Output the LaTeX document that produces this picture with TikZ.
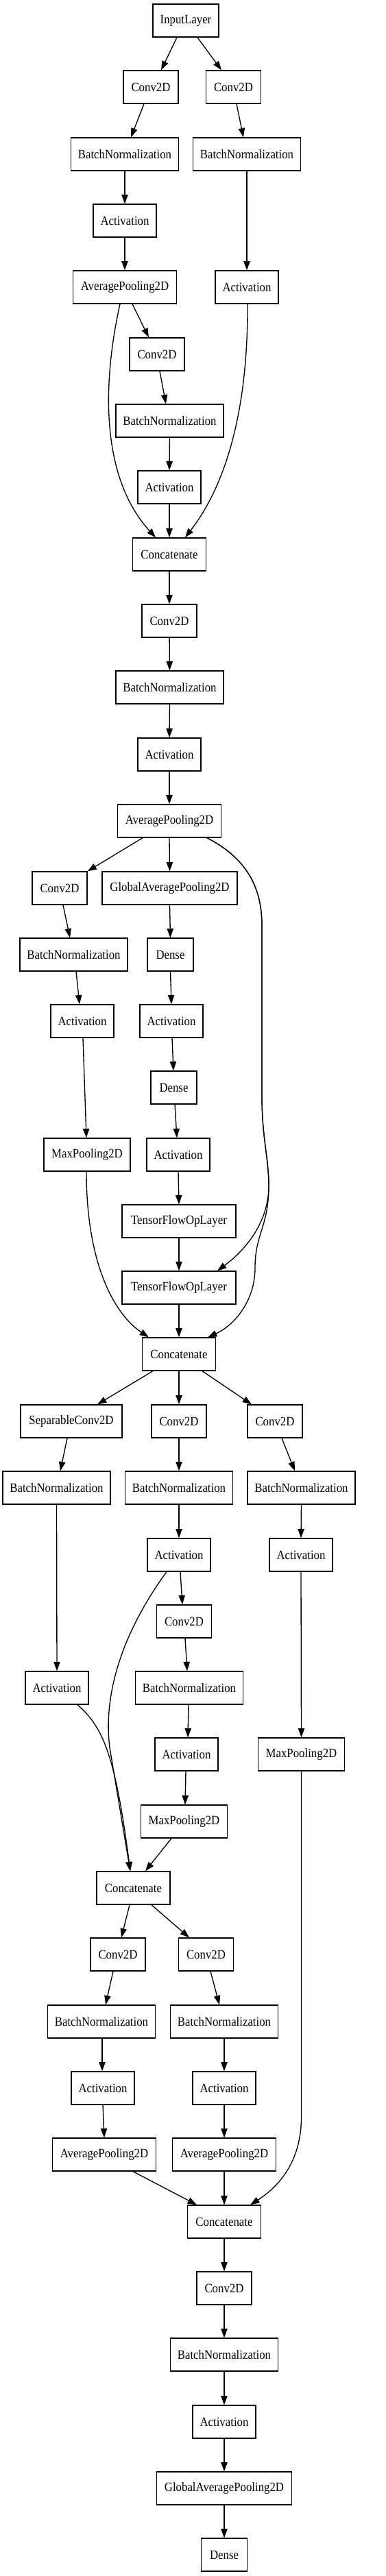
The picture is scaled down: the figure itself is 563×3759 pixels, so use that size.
\documentclass[tikz,border=0pt]{standalone}
\usepackage{fontspec}
\setmainfont{Liberation Serif}[FakeStretch=0.9]
\usetikzlibrary{arrows.meta,calc}
\begin{document}
\begin{tikzpicture}[x=0.75pt,y=-0.75pt,
  box/.style={draw,line width=1pt,rectangle,minimum height=36pt,inner sep=0pt,font=\fontsize{14}{16}\selectfont},
  bw/.style={minimum width=#1*0.75pt},
  conn/.style={draw,line width=1pt,-{Triangle[length=10pt,width=7pt]}}]
\useasboundingbox (0,0) rectangle (563,3759);
% nodes
\node[box,bw=96] (in) at (271,30) {InputLayer};
\node[box,bw=80] (c1a) at (220,127) {Conv2D};
\node[box,bw=80] (c1b) at (340.5,127) {Conv2D};
\node[box,bw=157] (bn1a) at (182,225) {BatchNormalization};
\node[box,bw=157] (bn1b) at (360,225) {BatchNormalization};
\node[box,bw=92] (ac1a) at (182,322) {Activation};
\node[box,bw=151] (ap1) at (182,419) {AveragePooling2D};
\node[box,bw=92] (ac1b) at (360,419) {Activation};
\node[box,bw=80] (c2) at (229,517) {Conv2D};
\node[box,bw=157] (bn2) at (247.5,614) {BatchNormalization};
\node[box,bw=92] (ac2) at (247,711) {Activation};
\node[box,bw=107] (cat1) at (247,809) {Concatenate};
\node[box,bw=80] (c3) at (247,906) {Conv2D};
\node[box,bw=157] (bn3) at (247.5,1003) {BatchNormalization};
\node[box,bw=92] (ac3) at (247,1101) {Activation};
\node[box,bw=151] (ap2) at (247,1198) {AveragePooling2D};
\node[box,bw=80] (c4) at (87,1296) {Conv2D};
\node[box,bw=197] (gap1) at (247.5,1296) {GlobalAveragePooling2D};
\node[box,bw=157] (bn4) at (107.5,1393) {BatchNormalization};
\node[box,bw=67] (de1) at (248.5,1393) {Dense};
\node[box,bw=92] (ac4) at (120,1490) {Activation};
\node[box,bw=92] (ac5) at (250,1490) {Activation};
\node[box,bw=67] (de2) at (253.5,1587) {Dense};
\node[box,bw=126] (mp1) at (127,1685) {MaxPooling2D};
\node[box,bw=92] (ac6) at (260,1685) {Activation};
\node[box,bw=166] (tf1) at (261,1782) {TensorFlowOpLayer};
\node[box,bw=166] (tf2) at (261,1879) {TensorFlowOpLayer};
\node[box,bw=107] (cat2) at (261,1976) {Concatenate};
\node[box,bw=148] (sc) at (104,2074) {SeparableConv2D};
\node[box,bw=80] (c5) at (261,2074) {Conv2D};
\node[box,bw=80] (c6) at (401,2074) {Conv2D};
\node[box,bw=157] (bn5) at (82.5,2171) {BatchNormalization};
\node[box,bw=157] (bn6) at (261,2171) {BatchNormalization};
\node[box,bw=157] (bn7) at (439.5,2171) {BatchNormalization};
\node[box,bw=92] (ac8) at (261,2269) {Activation};
\node[box,bw=92] (ac9) at (439,2269) {Activation};
\node[box,bw=80] (c7) at (268.5,2366) {Conv2D};
\node[box,bw=92] (ac7) at (83,2463) {Activation};
\node[box,bw=157] (bn8) at (276,2463) {BatchNormalization};
\node[box,bw=92] (ac10) at (272,2560) {Activation};
\node[box,bw=126] (mp2) at (439.5,2560) {MaxPooling2D};
\node[box,bw=126] (mp3) at (268.5,2658) {MaxPooling2D};
\node[box,bw=107] (cat3) at (194.5,2755) {Concatenate};
\node[box,bw=80] (c8) at (172,2852) {Conv2D};
\node[box,bw=80] (c9) at (300.5,2852) {Conv2D};
\node[box,bw=157] (bn9) at (148,2950) {BatchNormalization};
\node[box,bw=157] (bn10) at (327,2950) {BatchNormalization};
\node[box,bw=92] (ac11) at (150,3047) {Activation};
\node[box,bw=92] (ac12) at (327,3047) {Activation};
\node[box,bw=151] (ap3) at (152,3144) {AveragePooling2D};
\node[box,bw=151] (ap4) at (327,3144) {AveragePooling2D};
\node[box,bw=107] (cat4) at (327,3242) {Concatenate};
\node[box,bw=80] (c10) at (327,3339) {Conv2D};
\node[box,bw=157] (bn11) at (327,3436) {BatchNormalization};
\node[box,bw=92] (ac13) at (327,3534) {Activation};
\node[box,bw=197] (gap2) at (327,3631) {GlobalAveragePooling2D};
\node[box,bw=67] (de3) at (327,3728) {Dense};
% edges
\draw[conn] ($(in.south)+(-13,0)$) -- ($(c1a.north)+(15,0)$);
\draw[conn] ($(in.south)+(17,0)$) -- ($(c1b.north)+(-17.5,0)$);
\draw[conn] ($(c1a.south)+(-10,0)$) -- ($(bn1a.north)+(9,0)$);
\draw[conn] ($(c1b.south)+(4.5,0)$) -- ($(bn1b.north)+(-5,0)$);
\draw[conn] (bn1a) -- (ac1a);
\draw[conn] (bn1b) -- (ac1b);
\draw[conn] (ac1a) -- (ap1);
\draw[conn] ($(ap1.south)+(11,0)$) -- ($(c2.north)+(-12,0)$);
\draw[conn] ($(ap1.south)+(-7,0)$) .. controls (147,570) and (150,700) .. ($(cat1.north)+(-20,0)$);
\draw[conn] ($(c2.south)+(4,0)$) -- ($(bn2.north)+(-5.5,0)$);
\draw[conn] (bn2.south) -- (ac2.north);
\draw[conn] (ac2.south) -- (cat1.north);
\draw[conn] ($(ac1b.south)+(1,0)$) .. controls (362,620) and (320,720) .. ($(cat1.north)+(23,0)$);
\draw[conn] (cat1) -- (c3);
\draw[conn] (c3) -- (bn3);
\draw[conn] (bn3.south) -- (ac3.north);
\draw[conn] (ac3.south) -- (ap2.north);
\draw[conn] ($(ap2.south)+(-39,0)$) -- (c4.north east);
\draw[conn] (ap2.south) -- (gap1.north);
\draw[conn] ($(ap2.south)+(55,0)$) .. controls (355,1250) and (382,1290) .. (382,1350) -- (382,1600) .. controls (382,1660) and (392,1690) .. (392,1730) .. controls (392,1790) and (350,1830) .. ($(tf2.north)+(56,0)$);
\draw[conn] ($(ap2.south)+(55,0)$) .. controls (355,1250) and (382,1290) .. (382,1350) -- (382,1600) .. controls (382,1660) and (392,1690) .. (392,1730) .. controls (392,1790) and (372,1800) .. (372,1850) .. controls (372,1900) and (340,1935) .. ($(cat2.north)+(42,0)$);
\draw[conn] ($(c4.south)+(5,0)$) -- ($(bn4.north)+(-5.5,0)$);
\draw[conn] (gap1.south) -- (de1.north);
\draw[conn] ($(bn4.south)+(3.5,0)$) -- ($(ac4.north)+(-4,0)$);
\draw[conn] (de1.south) -- (ac5.north);
\draw[conn] ($(ac4.south)+(1,0)$) -- ($(mp1.north)+(-1,0)$);
\draw[conn] ($(ac5.south)+(1,0)$) -- ($(de2.north)+(-0.5,0)$);
\draw[conn] ($(de2.south)+(1.5,0)$) -- ($(ac6.north)+(-2,0)$);
\draw[conn] (ac6.south) -- (tf1.north);
\draw[conn] (tf1) -- (tf2);
\draw[conn] ($(mp1.south)+(-1,0)$) .. controls (126,1850) and (170,1920) .. ($(cat2.north)+(-44,0)$);
\draw[conn] (tf2) -- (cat2);
\draw[conn] ($(cat2.south)+(-38,0)$) -- ($(sc.north)+(38,0)$);
\draw[conn] (cat2) -- (c5);
\draw[conn] ($(cat2.south)+(34,0)$) -- ($(c6.north)+(-34,0)$);
\draw[conn] ($(sc.south)+(-6,0)$) -- ($(bn5.north)+(5.5,0)$);
\draw[conn] (c5) -- (bn6);
\draw[conn] ($(c6.south)+(10,0)$) -- ($(bn7.north)+(-9.5,0)$);
\draw[conn] (bn5.south) -- (ac7.north);
\draw[conn] (bn6) -- (ac8);
\draw[conn] (bn7.south) -- (ac9.north);
\draw[conn] ($(ac8.south)+(2,0)$) -- ($(c7.north)+(-2.5,0)$);
\draw[conn] ($(ac8.south)+(-18,0)$) .. controls (180,2380) and (150,2470) .. (160,2550) -- ($(cat3.north)+(-4.5,0)$);
\draw[conn] ($(ac7.south)+(30,0)$) .. controls (150,2520) and (168,2560) .. ($(cat3.north)+(-4.5,0)$);
\draw[conn] ($(c7.south)+(1.5,0)$) -- ($(bn8.north)+(-3,0)$);
\draw[conn] ($(bn8.south)+(-1,0)$) -- ($(ac10.north)+(2,0)$);
\draw[conn] (ac9.south) -- (mp2.north);
\draw[conn] ($(ac10.south)+(-1,0)$) -- ($(mp3.north)+(1.5,0)$);
\draw[conn] ($(mp3.south)+(-18.5,0)$) -- ($(cat3.north)+(17.5,0)$);
\draw[conn] ($(cat3.south)+(-5.5,0)$) -- ($(c8.north)+(5,0)$);
\draw[conn] ($(cat3.south)+(26.5,0)$) -- ($(c9.north)+(-24.5,0)$);
\draw[conn] ($(c8.south)+(-7,0)$) -- ($(bn9.north)+(6,0)$);
\draw[conn] ($(c9.south)+(6.5,0)$) -- ($(bn10.north)+(-7,0)$);
\draw[conn] ($(bn9.south)+(1,0)$) -- ($(ac11.north)+(-1,0)$);
\draw[conn] (bn10) -- (ac12);
\draw[conn] ($(ac11.south)+(0,0)$) -- ($(ap3.north)+(0,0)$);
\draw[conn] (ac12) -- (ap4);
\draw[conn] ($(ap3.south)+(42,0)$) -- ($(cat4.north)+(-40,0)$);
\draw[conn] (ap4) -- (cat4);
\draw[conn] (mp2.south) -- (439.5,3090) .. controls (439.5,3160) and (400,3195) .. ($(cat4.north)+(38,0)$);
\draw[conn] (cat4) -- (c10);
\draw[conn] (c10) -- (bn11);
\draw[conn] (bn11) -- (ac13);
\draw[conn] (ac13) -- (gap2);
\draw[conn] (gap2) -- (de3);
\end{tikzpicture}
\end{document}
